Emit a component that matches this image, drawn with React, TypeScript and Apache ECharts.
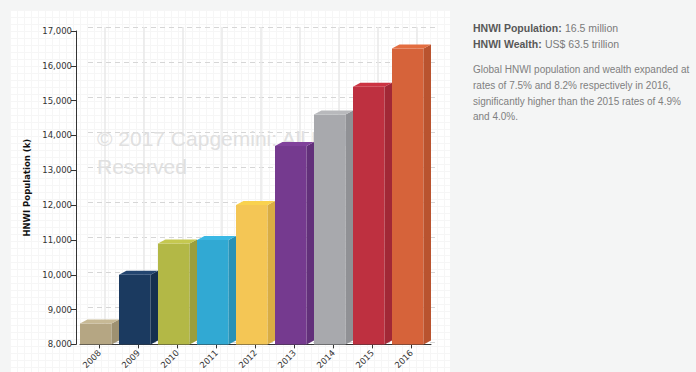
import React, { useEffect, useRef } from "react";
import * as echarts from "echarts";

const years = ["2008", "2009", "2010", "2011", "2012", "2013", "2014", "2015", "2016"];
const population = [8600, 10000, 10900, 11000, 12000, 13700, 14600, 15400, 16500];
const yMin = 8000;
const yMax = 17000;
const yStep = 1000;

const frontColors = ["#b5a683", "#1b3a60", "#b3b846", "#31a9d3", "#f4c655", "#753a8f", "#a8a9ad", "#be3040", "#d6633a"];
const topColors = ["#c7b995", "#234570", "#c5c84f", "#3ab8e4", "#f9d24f", "#80419b", "#b8b9bc", "#cc3342", "#e36d40"];
const sideColors = ["#9e9171", "#152f4f", "#9a9e3c", "#2991b5", "#d9ad44", "#62307a", "#909195", "#a22836", "#b9532f"];

const headerLines = [
  ["HNWI Population:", "16.5 million"],
  ["HNWI Wealth:", "US$ 63.5 trillion"],
];
const paragraph = [
  "Global HNWI population and wealth expanded at",
  "rates of 7.5% and 8.2% respectively in 2016,",
  "significantly higher than the 2015 rates of 4.9%",
  "and 4.0%.",
];
const watermark = ["© 2017 Capgemini: All Rights", "Reserved"];

export default function App() {
  const ref = useRef<HTMLDivElement>(null);
  useEffect(() => {
    if (!ref.current) return;
    const chart = echarts.init(ref.current, null, { renderer: "svg" });
    const depthY = 4;
    const option: any = {
      animation: false,
      grid: [
        { left: 80, right: 265, top: 31, bottom: 26 },
        { left: 88, right: 257, top: 27, bottom: 30 },
        { left: 105, right: 279, top: 27, bottom: 30 },
      ],
      xAxis: [
        {
          type: "category",
          gridIndex: 0,
          data: years,
          boundaryGap: true,
          axisLine: { show: true, lineStyle: { color: "#333", width: 1 } },
          axisTick: { show: true, alignWithLabel: true, length: 4, lineStyle: { color: "#333" } },
          axisLabel: {
            rotate: 45,
            margin: 7,
            fontFamily: "DejaVu Sans",
            fontSize: 8.5,
            color: "#333",
          },
          splitLine: { show: false },
        },
        {
          type: "category",
          gridIndex: 1,
          data: years,
          show: false,
        },
        {
          type: "value",
          gridIndex: 2,
          min: 0,
          max: 8,
          interval: 1,
          axisLine: { show: false },
          axisTick: { show: false },
          axisLabel: { show: false },
          splitLine: { show: true, lineStyle: { color: "#e8e8e8", width: 1.5 } },
        },
      ],
      yAxis: [
        {
          type: "value",
          gridIndex: 0,
          min: yMin,
          max: yMax,
          interval: yStep,
          offset: 4,
          name: "HNWI Population (k)",
          nameLocation: "middle",
          nameRotate: 90,
          nameGap: 43,
          nameTextStyle: { fontFamily: "DejaVu Sans", fontWeight: "bold", fontSize: 8.5, color: "#111" },
          axisLine: { show: true, lineStyle: { color: "#333", width: 1 } },
          axisTick: { show: true, length: 5, lineStyle: { color: "#333" } },
          axisLabel: {
            margin: 4,
            fontFamily: "DejaVu Sans",
            fontSize: 8.5,
            color: "#333",
            formatter: (v: number) => v.toLocaleString("en-US"),
          },
          splitLine: { show: false },
        },
        {
          type: "value",
          gridIndex: 1,
          min: yMin,
          max: yMax,
          interval: yStep,
          axisLine: { show: false },
          axisTick: { show: false },
          axisLabel: { show: false },
          splitLine: { show: true, lineStyle: { color: "#d6d6d6", type: [5, 4], width: 1 } },
        },
        {
          type: "value",
          gridIndex: 2,
          min: yMin,
          max: yMax,
          show: false,
          splitLine: { show: false },
        },
      ],
      graphic: [
        {
          type: "text",
          z: 1,
          left: 97,
          top: 124,
          style: {
            text: watermark.join("\n"),
            font: "21px 'Liberation Sans'",
            lineHeight: 28,
            fill: "#e0e0e0",
          },
        },
        ...headerLines.map((h, i) => ({
          type: "text",
          left: 473,
          top: 22 + i * 15.5,
          style: {
            text: `{b|${h[0]}} {v|${h[1]}}`,
            rich: {
              b: { font: "bold 10.5px 'Liberation Sans'", fill: "#585858" },
              v: { font: "10.5px 'Liberation Sans'", fill: "#7a7a7a" },
            },
          },
        })),
        {
          type: "text",
          left: 473,
          top: 62,
          style: {
            text: paragraph.join("\n"),
            font: "10px 'Liberation Sans'",
            lineHeight: 15.6,
            fill: "#808080",
          },
        },
      ],
      series: [
        {
          type: "custom",
          xAxisIndex: 0,
          yAxisIndex: 0,
          z: 3,
          data: years.map((y, i) => [i, population[i]]),
          encode: { x: 0, y: 1 },
          renderItem: (params: any, api: any) => {
            const i = api.value(0);
            const v = api.value(1);
            const top = api.coord([i, v]);
            const base = api.coord([i, yMin]);
            const w = api.size([1, 0])[0];
            const x0 = top[0] - w / 2;
            const fw = w * 0.81;
            const dx = w - fw;
            const k = params.dataIndex;
            return {
              type: "group",
              children: [
                {
                  type: "rect",
                  shape: { x: x0, y: top[1], width: fw, height: base[1] - top[1] },
                  style: { fill: frontColors[k] },
                },
                {
                  type: "polygon",
                  shape: {
                    points: [
                      [x0 + fw, top[1]],
                      [x0 + fw + dx, top[1] - depthY],
                      [x0 + fw + dx, base[1] - depthY],
                      [x0 + fw, base[1]],
                    ],
                  },
                  style: { fill: sideColors[k] },
                },
                {
                  type: "polygon",
                  shape: {
                    points: [
                      [x0, top[1]],
                      [x0 + dx, top[1] - depthY],
                      [x0 + fw + dx, top[1] - depthY],
                      [x0 + fw, top[1]],
                    ],
                  },
                  style: { fill: topColors[k] },
                },
              ],
            };
          },
        },
      ],
    };
    chart.setOption(option);
    return () => chart.dispose();
  }, []);

  return (
    <div style={{ position: "fixed", left: 0, top: 0, width: 696, height: 372, background: "#f4f5f5", overflow: "hidden" }}>
      <div
        style={{
          position: "absolute",
          left: 10,
          top: 10,
          width: 440,
          height: 362,
          backgroundColor: "#ffffff",
          backgroundImage:
            "linear-gradient(#f6f6f6 1px, transparent 1px), linear-gradient(90deg, #f6f6f6 1px, transparent 1px)",
          backgroundSize: "7px 7px",
        }}
      />
      <div ref={ref} style={{ position: "absolute", left: 0, top: 0, width: 696, height: 372 }} />
    </div>
  );
}
